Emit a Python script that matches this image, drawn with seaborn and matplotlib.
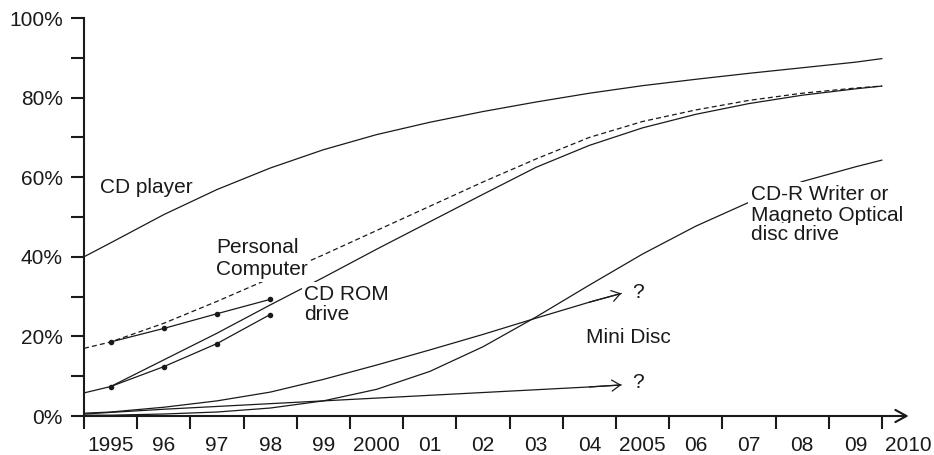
import matplotlib
matplotlib.use("Agg")
import matplotlib.pyplot as plt
from matplotlib.patches import FancyArrowPatch
import seaborn as sns


# forecast curves (percent of households)
years = [1994.5, 1995, 1996, 1997, 1998, 1999, 2000, 2001, 2002,
         2003, 2004, 2005, 2006, 2007, 2008, 2009, 2009.5]
cd_player = [40.0, 43.5, 50.6, 56.9, 62.3, 66.9, 70.7, 73.8, 76.5,
             78.9, 81.1, 83.0, 84.6, 86.1, 87.5, 88.9, 89.8]
pc_forecast = [17.0, 18.6, 23.3, 28.8, 34.6, 40.5, 46.6, 52.7, 58.8,
               64.6, 70.0, 74.0, 76.9, 79.3, 81.1, 82.4, 82.9]
cdrom_forecast = [5.8, 7.4, 14.1, 20.8, 27.9, 34.8, 41.9, 48.8, 55.7,
                  62.5, 68.0, 72.4, 75.8, 78.5, 80.6, 82.2, 82.9]
cdr_writer = [0.2, 0.2, 0.5, 1.0, 2.0, 3.8, 6.7, 11.2, 17.4,
              24.9, 32.9, 40.7, 47.7, 53.7, 58.9, 62.6, 64.3]

# mini disc, two open-ended scenarios
mini_years = [1994.5, 1995, 1996, 1997, 1998, 1999, 2000, 2001, 2002, 2003, 2004, 2004.6]
minidisc_high = [0.7, 1.0, 2.2, 3.8, 6.0, 9.2, 12.8, 16.6, 20.5, 24.6, 28.6, 30.8]
minidisc_low = [0.5, 0.9, 1.7, 2.4, 3.1, 3.8, 4.5, 5.2, 5.9, 6.6, 7.3, 7.8]

# actual figures with dots
actual_years = [1995, 1996, 1997, 1998]
pc_actual = [18.6, 22.0, 25.7, 29.3]
cdrom_actual = [7.4, 12.4, 18.2, 25.5]

# axis labelling
label_years = list(range(1995, 2011))
year_labels = ["1995", "96", "97", "98", "99", "2000", "01", "02", "03", "04",
               "2005", "06", "07", "08", "09", "2010"]
pct_ticks = [0, 20, 40, 60, 80, 100]
pct_minor = [10, 30, 50, 70, 90]

sns.set_theme(style="white")
plt.rcParams["font.family"] = ["Liberation Sans", "DejaVu Sans"]

ink = "#1a1a1a"
lw = 0.9
fs = 15

fig = plt.figure(figsize=(9.34, 4.55), dpi=100)
ax = fig.add_axes([84 / 934, 39 / 455, 836 / 934, 398 / 455])


def curve(x, y, **kw):
    sns.lineplot(x=x, y=y, ax=ax, color=ink, lw=lw, sort=False,
                 estimator=None, **kw)


curve(years, cd_player)
curve(years, pc_forecast, linestyle=(0, (4, 2.5)))
curve(years, cdrom_forecast)
curve(years, cdr_writer)

for ys in (minidisc_high, minidisc_low):
    curve(mini_years, ys)
    ax.annotate("", xy=(mini_years[-1], ys[-1]), xytext=(mini_years[-2], ys[-2]),
                arrowprops=dict(arrowstyle="->,head_length=0.6,head_width=0.4",
                                lw=lw, color=ink, shrinkA=0, shrinkB=0,
                                mutation_scale=10))

for ys in (pc_actual, cdrom_actual):
    curve(actual_years, ys, marker="o", markersize=4, markeredgewidth=0,
          markerfacecolor=ink)


def label(x, y, s, masked=True):
    ax.text(x, y, s, fontsize=fs, color=ink, ha="left", va="baseline", zorder=5,
            bbox=dict(facecolor="white", edgecolor="none", pad=2) if masked else None)


label(1994.81, 55.95, "CD player", masked=False)
label(1996.98, 40.9, "Personal")
label(1996.98, 35.4, "Computer")
label(1998.64, 29.1, "CD ROM")
label(1998.64, 24.1, "drive")
label(2003.93, 18.3, "Mini Disc", masked=False)
label(2004.80, 29.6, "?", masked=False)
label(2004.80, 7.0, "?", masked=False)
label(2007.04, 54.3, "CD-R Writer or")
label(2007.04, 49.1, "Magneto Optical")
label(2007.04, 44.1, "disc drive")

# axes
ax.set_xlim(1994.5, 1994.5 + 836 / 53.2)
ax.set_ylim(0, 100)
ax.set_xticks([y - 0.5 for y in label_years])
ax.set_xticklabels([])
ax.set_xticks(label_years, minor=True)
ax.set_xticklabels(year_labels, minor=True)
ax.set_yticks(pct_ticks)
ax.set_yticklabels([f"{p}%" for p in pct_ticks])
ax.set_yticks(pct_minor, minor=True)
ax.set_xlabel("")
ax.set_ylabel("")

ax.tick_params(axis="x", which="major", bottom=True, direction="out",
               length=9.4, width=1.5, color=ink)
ax.tick_params(axis="x", which="minor", bottom=True, length=0, pad=14.5,
               labelsize=fs, labelcolor=ink)
ax.tick_params(axis="y", which="both", left=True, direction="out",
               length=9.4, width=1.5, color=ink, pad=5.8,
               labelsize=fs, labelcolor=ink)

for side in ("top", "right", "bottom"):
    ax.spines[side].set_visible(False)
ax.spines["left"].set_linewidth(1.5)
ax.spines["left"].set_color(ink)

ax.add_patch(FancyArrowPatch((1994.5, 0), (2010.0, 0),
                             arrowstyle="->,head_length=0.4,head_width=0.22",
                             mutation_scale=20, lw=1.5, color=ink,
                             shrinkA=0, shrinkB=0, clip_on=False,
                             transform=ax.transData, zorder=4))

fig.savefig("out.png", dpi=100, facecolor="white")
plt.close(fig)
